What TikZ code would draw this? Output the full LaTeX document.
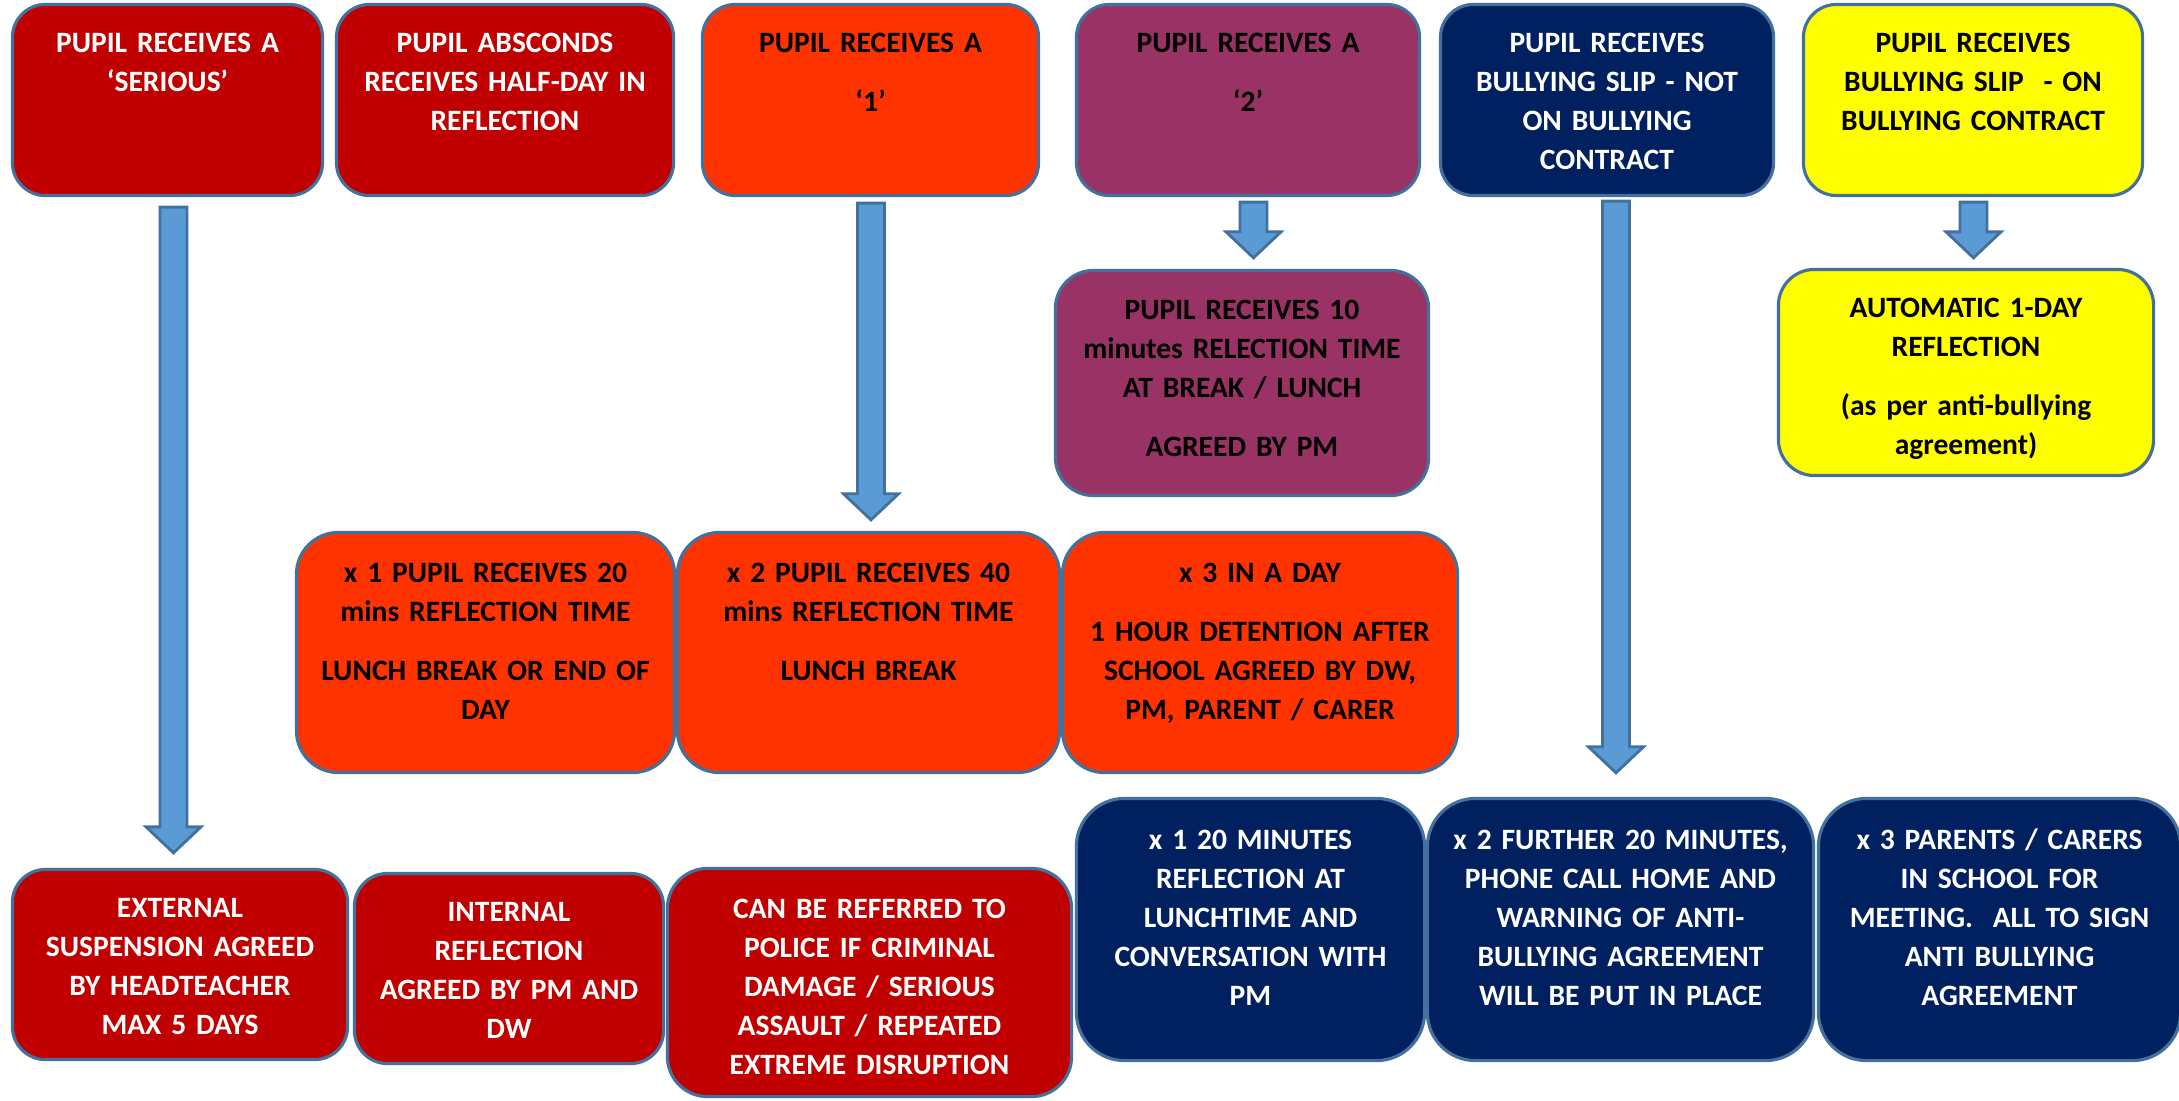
\documentclass[tikz,border=0pt]{standalone}
\usepackage{fontspec}
\setmainfont{Carlito}
\usetikzlibrary{calc}

\definecolor{redbox}{HTML}{C00000}
\definecolor{orangebox}{HTML}{FF3300}
\definecolor{purplebox}{HTML}{993366}
\definecolor{navybox}{HTML}{002060}
\definecolor{yellowbox}{HTML}{FFFF00}
\definecolor{boxline}{HTML}{41719C}
\definecolor{arrowfill}{HTML}{5B9BD5}

\begin{document}
\begin{tikzpicture}[
  x=0.01cm, y=-0.01cm,
  rule box/.style={
    draw=boxline,
    line width=0.9pt,
    rounded corners=#1
  },
  rule box/.default=0.33cm,
  rule text/.style={
    anchor=base,
    align=center,
    text width=4.2cm,
    inner sep=0pt,
    font=\fontsize{8.4}{11.07}\selectfont\bfseries
  },
  rule arrow/.style={
    draw=boxline,
    fill=arrowfill,
    line width=0.8pt,
    to path={let \p1=(\tikztostart), \p2=(\tikztotarget) in
      (\x1-0.135cm,\y1) -- (\x1+0.135cm,\y1) -- (\x1+0.135cm,\y2+0.26cm)
      -- (\x1+0.275cm,\y2+0.26cm) -- (\x1,\y2) -- (\x1-0.275cm,\y2+0.26cm)
      -- (\x1-0.135cm,\y2+0.26cm) -- cycle}
  }
]
\useasboundingbox (0,0) rectangle (2179,1100);

% top row
\node[rule box, fill=redbox, minimum width=3.10cm, minimum height=1.91cm] (serious) at (167.5,100) {};
\node[rule text, text=white] (serious text) at (167.5,52.5) {PUPIL RECEIVES A\\‘SERIOUS’};

\node[rule box, fill=redbox, minimum width=3.37cm, minimum height=1.91cm] (absconds) at (505,100) {};
\node[rule text, text=white] (absconds text) at (505,52.5) {PUPIL ABSCONDS\\RECEIVES HALF-DAY IN\\REFLECTION};

\node[rule box, fill=orangebox, minimum width=3.36cm, minimum height=1.91cm] (one) at (870.5,100) {};
\node[rule text] (one text) at (870.5,52.5) {PUPIL RECEIVES A\\[0.2cm]‘1’};

\node[rule box, fill=purplebox, minimum width=3.43cm, minimum height=1.91cm] (two) at (1248,100) {};
\node[rule text] (two text) at (1248,52.5) {PUPIL RECEIVES A\\[0.2cm]‘2’};

\node[rule box, fill=navybox, minimum width=3.33cm, minimum height=1.91cm] (slip not) at (1607,100) {};
\node[rule text, text=white] (slip not text) at (1607,52.5) {PUPIL RECEIVES\\BULLYING SLIP - NOT\\ON BULLYING\\CONTRACT};

\node[rule box, fill=yellowbox, minimum width=3.39cm, minimum height=1.91cm] (slip on) at (1973,100) {};
\node[rule text] (slip on text) at (1973,52.5) {PUPIL RECEIVES\\BULLYING SLIP~~- ON\\BULLYING CONTRACT};

% second row
\node[rule box=0.38cm, fill=purplebox, minimum width=3.73cm, minimum height=2.25cm] (ten mins) at (1242,383) {};
\node[rule text] (ten mins text) at (1242,319.5) {PUPIL RECEIVES 10\\minutes RELECTION TIME\\AT BREAK / LUNCH\\[0.2cm]AGREED BY PM};

\node[rule box=0.36cm, fill=yellowbox, minimum width=3.75cm, minimum height=2.06cm] (one day) at (1966,372.5) {};
\node[rule text] (one day text) at (1966,317.5) {AUTOMATIC 1-DAY\\REFLECTION\\[0.2cm](as per anti-bullying\\agreement)};

% orange row
\node[rule box=0.42cm, fill=orangebox, minimum width=3.78cm, minimum height=2.40cm] (x one) at (485.5,652.5) {};
\node[rule text] (x one text) at (485.5,582.5) {x 1 PUPIL RECEIVES 20\\mins REFLECTION TIME\\[0.2cm]LUNCH BREAK OR END OF\\DAY};

\node[rule box=0.42cm, fill=orangebox, minimum width=3.82cm, minimum height=2.40cm] (x two) at (868.5,652.5) {};
\node[rule text] (x two text) at (868.5,582.5) {x 2 PUPIL RECEIVES 40\\mins REFLECTION TIME\\[0.2cm]LUNCH BREAK};

\node[rule box=0.42cm, fill=orangebox, minimum width=3.95cm, minimum height=2.40cm] (x three) at (1260,652.5) {};
\node[rule text] (x three text) at (1260,582.5) {x 3 IN A DAY\\[0.2cm]1 HOUR DETENTION AFTER\\SCHOOL AGREED BY DW,\\PM, PARENT / CARER};

% bottom row
\node[rule box, fill=redbox, minimum width=3.35cm, minimum height=1.90cm] (external) at (180,964.5) {};
\node[rule text, text=white] (external text) at (180,917.5) {EXTERNAL\\SUSPENSION AGREED\\BY HEADTEACHER\\MAX 5 DAYS};

\node[rule box, fill=redbox, minimum width=3.09cm, minimum height=1.90cm] (internal) at (509,968.5) {};
\node[rule text, text=white] (internal text) at (509,921.5) {INTERNAL\\REFLECTION\\AGREED BY PM AND\\DW};

\node[rule box=0.40cm, fill=redbox, minimum width=4.04cm, minimum height=2.28cm] (police) at (869.5,982.5) {};
\node[rule text, text=white] (police text) at (869.5,918.5) {CAN BE REFERRED TO\\POLICE IF CRIMINAL\\DAMAGE / SERIOUS\\ASSAULT / REPEATED\\EXTREME DISRUPTION};

\node[rule box=0.48cm, fill=navybox, minimum width=3.48cm, minimum height=2.62cm] (n one) at (1250.5,929.5) {};
\node[rule text, text=white] (n one text) at (1250.5,849.5) {x 1 20 MINUTES\\REFLECTION AT\\LUNCHTIME AND\\CONVERSATION WITH\\PM};

\node[rule box=0.48cm, fill=navybox, minimum width=3.86cm, minimum height=2.62cm] (n two) at (1620.5,929.5) {};
\node[rule text, text=white] (n two text) at (1620.5,849.5) {x 2 FURTHER 20 MINUTES,\\PHONE CALL HOME AND\\WARNING OF ANTI-\\BULLYING AGREEMENT\\WILL BE PUT IN PLACE};

\node[rule box=0.48cm, fill=navybox, minimum width=3.62cm, minimum height=2.62cm] (n three) at (1999.5,929.5) {};
\node[rule text, text=white] (n three text) at (1999.5,849.5) {x 3 PARENTS / CARERS\\IN SCHOOL FOR\\MEETING.~~ALL TO SIGN\\ANTI BULLYING\\AGREEMENT};

% block arrows
\path[rule arrow] ([shift={(6,10)}]serious.south) to ([shift={(0,-15)}]external.north);
\path[rule arrow] ([shift={(0.5,6)}]one.south) to ([shift={(0,-11)}]x two.north);
\path[rule arrow] ([shift={(5.5,5)}]two.south) to ([shift={(0,-11)}]ten mins.north);
\path[rule arrow] ([shift={(9,4)}]slip not.south) to ([shift={(0,-24)}]n two.north);
\path[rule arrow] ([shift={(0.5,5)}]slip on.south) to ([shift={(0,-10)}]one day.north);

\end{tikzpicture}
\end{document}
